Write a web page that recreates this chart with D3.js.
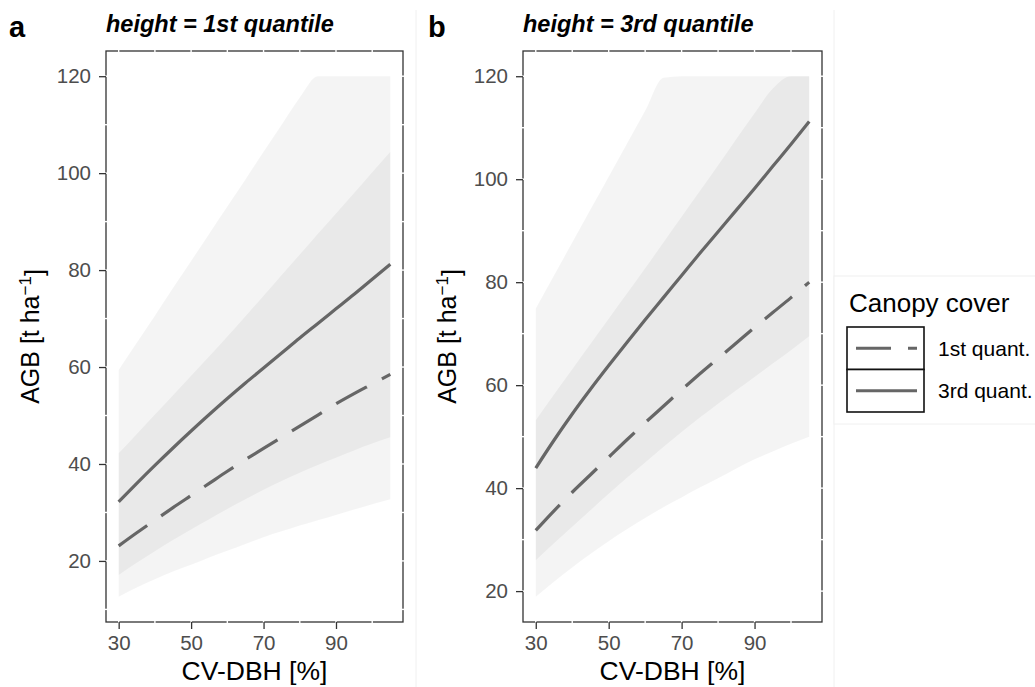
<!DOCTYPE html>
<html>
<head>
<meta charset="utf-8">
<script src="https://cdn.jsdelivr.net/npm/d3@7"></script>
<style>
  body { margin: 0; background: #fff; }
  svg { display: block; font-family: "Liberation Sans", Arial, sans-serif; }
</style>
</head>
<body>
<div id="chart"></div>
<script>
// CV-DBH grid (x values)
const cvDbh = [30, 35, 40, 45, 50, 55, 60, 65, 70, 75, 80, 85, 90, 95, 100, 105];
const xTicks = [30, 50, 70, 90];
const yTicks = [20, 40, 60, 80, 100, 120];
const legendLabels = ["1st quant.", "3rd quant."];
const panelTitles = ["height = 1st quantile", "height = 3rd quantile"];
const panelTags = ["a", "b"];

// panel a: height = 1st quantile
const aCc1 = [23.1, 25.8, 28.4, 31, 33.5, 36, 38.5, 40.9, 43.2, 45.5, 47.8, 50.1, 52.4, 54.5, 56.5, 58.5];
const aCc1Lo = [12.6, 14.5, 16.2, 17.8, 19.2, 20.7, 22.1, 23.5, 24.9, 26.1, 27.3, 28.4, 29.5, 30.6, 31.7, 32.7];
const aCc1Hi = [42.2, 46.2, 50.2, 54.2, 58.2, 62.2, 66.3, 70.5, 74.7, 79, 83.2, 87.5, 91.7, 95.9, 100.2, 104.4];
const aCc3 = [32.2, 36, 39.7, 43.3, 46.8, 50.2, 53.5, 56.7, 59.8, 62.9, 66, 69, 72, 75, 78.1, 81.2];
const aCc3Lo = [17.1, 19.6, 22, 24.3, 26.5, 28.6, 30.7, 32.7, 34.7, 36.5, 38.2, 39.8, 41.3, 42.8, 44.2, 45.5];
const aCc3Hi = [59.4, 65, 70.6, 76.3, 81.9, 87.5, 93.1, 98.7, 104.4, 110, 115.6, 120, 120, 120, 120, 120];

// panel b: height = 3rd quantile
const bCc1 = [31.8, 35.6, 39.2, 42.6, 46, 49.4, 52.7, 55.9, 59.1, 62.2, 65.2, 68.2, 71.2, 74.1, 77, 80];
const bCc1Lo = [18.9, 21.8, 24.6, 27.2, 29.7, 32, 34.2, 36.3, 38.2, 40.1, 41.9, 43.8, 45.6, 47.1, 48.6, 50];
const bCc1Hi = [53.2, 58.2, 63.1, 68, 72.9, 77.8, 82.7, 87.7, 92.7, 97.7, 102.7, 107.8, 112.8, 117.6, 120, 120];
const bCc3 = [43.9, 49.3, 54.4, 59.2, 63.8, 68.3, 72.7, 77, 81.3, 85.6, 89.8, 94, 98.2, 102.5, 106.8, 111.2];
const bCc3Lo = [26, 29.3, 32.5, 35.7, 38.9, 42, 45, 48, 50.9, 53.7, 56.4, 59, 61.6, 64.2, 66.8, 69.5];
const bCc3Hi = [74.9, 81.3, 87.7, 94.1, 100.5, 106.9, 113.3, 119.7, 120, 120, 120, 120, 120, 120, 120, 120];

const W = 1035, H = 687;
const lineCol = "#666666";
const dashes = "35,17";

const svg = d3.select("#chart").append("svg")
    .attr("width", W)
    .attr("height", H);

// faint plot background borders (separate plots put side by side)
[416, 834].forEach(function(x) {
  svg.append("line")
      .attr("x1", x).attr("x2", x).attr("y1", 10).attr("y2", H)
      .attr("stroke", "#f0f0f0").attr("stroke-width", 1);
});

function drawPanel(p) {
  const x = d3.scaleLinear().domain([26.5, 108.5]).range([p.left, p.right]);
  const y = d3.scaleLinear().domain(p.yDomain).range([622, 51]);
  const top = 51, bottom = 622;
  const g = svg.append("g");

  // ribbons (grey with alpha, overlap gets darker)
  const area = d3.area()
      .x(function(d) { return x(d.x); })
      .y0(function(d) { return y(Math.min(d.lo, 120)); })
      .y1(function(d) { return y(Math.min(d.hi, 120)); })
      .curve(d3.curveMonotoneX);
  [[p.cc1Lo, p.cc1Hi], [p.cc3Lo, p.cc3Hi]].forEach(function(r) {
    const rows = cvDbh.map(function(v, i) { return {x: v, lo: r[0][i], hi: r[1][i]}; });
    g.append("path")
        .datum(rows)
        .attr("d", area)
        .attr("fill", "#000")
        .attr("fill-opacity", 0.045);
  });

  // fitted lines
  const line = d3.line()
      .x(function(d) { return x(d.x); })
      .y(function(d) { return y(d.y); })
      .curve(d3.curveMonotoneX);
  [[p.cc1, dashes], [p.cc3, null]].forEach(function(s) {
    g.append("path")
        .datum(cvDbh.map(function(v, i) { return {x: v, y: s[0][i]}; }))
        .attr("d", line)
        .attr("fill", "none")
        .attr("stroke", lineCol)
        .attr("stroke-width", 3.2)
        .attr("stroke-dasharray", s[1]);
  });

  // panel border
  g.append("rect")
      .attr("x", p.left).attr("y", top)
      .attr("width", p.right - p.left).attr("height", bottom - top)
      .attr("fill", "none")
      .attr("stroke", "#333").attr("stroke-width", 1.3);

  // white grid lines break the border where they meet it
  const xGrid = d3.range(30, 101, 10);
  const yGrid = d3.range(10, 121, 10).filter(function(v) { return y(v) < bottom - 2; });
  xGrid.forEach(function(v) {
    [top, bottom].forEach(function(yy) {
      g.append("line").attr("x1", x(v)).attr("x2", x(v))
          .attr("y1", yy - 1.5).attr("y2", yy + 1.5)
          .attr("stroke", "#fff").attr("stroke-width", 1.4);
    });
  });
  yGrid.forEach(function(v) {
    [p.left, p.right].forEach(function(xx) {
      g.append("line").attr("x1", xx - 1.5).attr("x2", xx + 1.5)
          .attr("y1", y(v)).attr("y2", y(v))
          .attr("stroke", "#fff").attr("stroke-width", 1.4);
    });
  });

  // axes
  const xAxis = g.append("g")
      .attr("transform", "translate(0," + bottom + ")")
      .call(d3.axisBottom(x).tickValues(xTicks).tickSize(7).tickPadding(6).tickSizeOuter(0));
  const yAxis = g.append("g")
      .attr("transform", "translate(" + p.left + ",0)")
      .call(d3.axisLeft(y).tickValues(yTicks).tickSize(7).tickPadding(8).tickSizeOuter(0));
  [xAxis, yAxis].forEach(function(a) {
    a.select(".domain").remove();
    a.selectAll("line").attr("stroke", "#333").attr("stroke-width", 1.3);
    a.selectAll("text")
        .attr("fill", "#4d4d4d")
        .style("font-size", "20.5px")
        .style("font-family", "Liberation Sans, Arial, sans-serif");
  });

  // axis titles
  g.append("text")
      .attr("x", (p.left + p.right) / 2)
      .attr("y", 680)
      .attr("text-anchor", "middle")
      .style("font-size", "26.5px")
      .text("CV-DBH [%]");

  const yt = g.append("text")
      .attr("transform", "translate(" + (p.left - 67) + "," + ((top + bottom) / 2) + ") rotate(-90)")
      .attr("text-anchor", "middle")
      .style("font-size", "25px");
  yt.append("tspan").text("AGB [t ha");
  yt.append("tspan").attr("dy", "-0.45em").style("font-size", "17px").text("\u22121");
  yt.append("tspan").attr("dy", "0.45em").text("]");

  // panel title and tag
  g.append("text")
      .attr("x", p.left).attr("y", 32)
      .style("font-size", "23.5px")
      .style("font-weight", "bold")
      .style("font-style", "italic")
      .text(p.title);
  g.append("text")
      .attr("x", p.tagX).attr("y", 37)
      .style("font-size", "29px")
      .style("font-weight", "bold")
      .text(p.tag);
}

drawPanel({
  left: 106, right: 403, yDomain: [7.4, 125.2],
  cc1: aCc1, cc1Lo: aCc1Lo, cc1Hi: aCc1Hi,
  cc3: aCc3, cc3Lo: aCc3Lo, cc3Hi: aCc3Hi,
  title: panelTitles[0], tag: panelTags[0], tagX: 9
});
drawPanel({
  left: 523, right: 822, yDomain: [14, 124.9],
  cc1: bCc1, cc1Lo: bCc1Lo, cc1Hi: bCc1Hi,
  cc3: bCc3, cc3Lo: bCc3Lo, cc3Hi: bCc3Hi,
  title: panelTitles[1], tag: panelTags[1], tagX: 428
});

// legend
const leg = svg.append("g");
leg.append("rect")
    .attr("x", 834).attr("y", 276).attr("width", 210).attr("height", 148)
    .attr("fill", "#fff").attr("stroke", "#f0f0f0").attr("stroke-width", 1);
leg.append("text")
    .attr("x", 849).attr("y", 312)
    .style("font-size", "26px")
    .text("Canopy cover");
const keyY = d3.scaleBand().domain(legendLabels).range([327, 412]);
legendLabels.forEach(function(lab, i) {
  const y0 = keyY(lab), h = keyY.bandwidth();
  leg.append("rect")
      .attr("x", 847).attr("y", y0).attr("width", 77).attr("height", h)
      .attr("fill", "#fff").attr("stroke", "#111").attr("stroke-width", 1.6);
  leg.append("line")
      .attr("x1", 856).attr("x2", 917)
      .attr("y1", y0 + h / 2).attr("y2", y0 + h / 2)
      .attr("stroke", lineCol).attr("stroke-width", 3.2)
      .attr("stroke-dasharray", i === 0 ? dashes : null);
  leg.append("text")
      .attr("x", 938).attr("y", y0 + h / 2 + 7.5)
      .style("font-size", "21px")
      .text(lab);
});
</script>
</body>
</html>
